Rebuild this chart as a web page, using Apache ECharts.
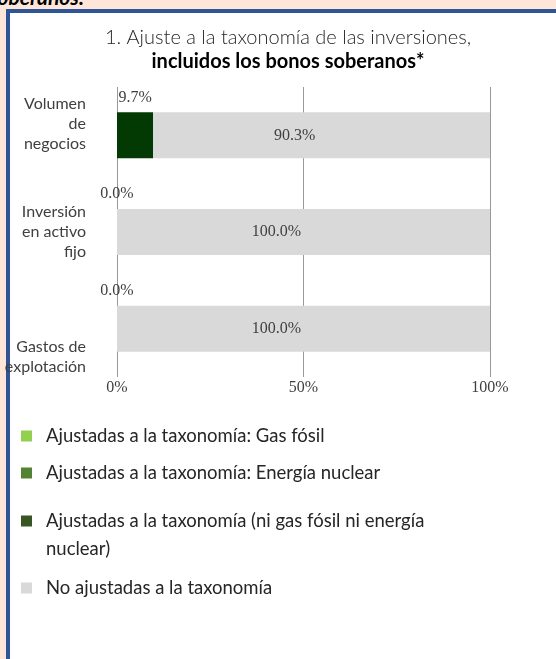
<!DOCTYPE html>
<html>
<head>
<meta charset="utf-8">
<script src="https://cdn.jsdelivr.net/npm/echarts@6/dist/echarts.min.js"></script>
<style>
  html, body { margin: 0; padding: 0; }
  body { width: 556px; height: 659px; background: #fde6d7; position: relative; overflow: hidden; }
  .cut { position: absolute; left: -11px; top: -13px; font: italic bold 21px Lato, sans-serif; color: #000; line-height: 20px; }
  .panel { position: absolute; left: 6px; top: 9px; right: -10px; bottom: -10px; background: #fff;
           border-left: 4px solid #2f5597; border-top: 4px solid #2f5597; }
  #chart { position: absolute; left: 0; top: 0; width: 556px; height: 659px; }
</style>
</head>
<body>
<div class="cut">soberanos.</div>
<div class="panel"></div>
<div id="chart"></div>
<script>
// categories (top to bottom)
const categories = ['Volumen\nde\nnegocios', 'Inversión\nen activo\nfijo', 'Gastos de\nexplotación']
// series values (%)
const gasFosil = [0, 0, 0]
const nuclear = [0, 0, 0]
const niGasNiNuclear = [9.7, 0, 0]
const noAjustadas = [90.3, 100, 100]
// legend names
const seriesNames = [
  'Ajustadas a la taxonomía: Gas fósil',
  'Ajustadas a la taxonomía: Energía nuclear',
  'Ajustadas a la taxonomía (ni gas fósil ni energía\nnuclear)',
  'No ajustadas a la taxonomía'
]
const tickLabels = ['0%', '50%', '100%']

const chart = echarts.init(document.getElementById('chart'))

const sansFont = 'Lato, "Open Sans", sans-serif'
const serifFont = '"Liberation Serif", "DejaVu Serif", serif'

// one legend per item so each row sits where the reference has it
function legendItem(name, top, color, firstLineAtIcon) {
  return {
    top: top,
    left: 21,
    orient: 'vertical',
    padding: 0,
    itemWidth: 11,
    itemHeight: 11,
    icon: 'rect',
    selectedMode: false,
    data: [{ name: name, itemStyle: { color: color } }],
    // a leading blank line keeps the marker level with the first text line
    formatter: firstLineAtIcon ? n => '\n' + n : n => n,
    textStyle: {
      fontFamily: sansFont,
      fontSize: 18.5,
      lineHeight: 28,
      color: '#262626',
      padding: [0, 0, 0, 9]
    }
  }
}

chart.setOption({
  animation: false,
  title: {
    text: '{a|1. Ajuste a la taxonomía de las inversiones,}\n{b|incluidos los bonos soberanos*}',
    left: 283,
    top: 21,
    textAlign: 'center',
    textStyle: {
      rich: {
        a: { fontFamily: sansFont, fontWeight: 300, fontSize: 20, lineHeight: 24, color: '#262626' },
        b: { fontFamily: sansFont, fontWeight: 'bold', fontSize: 20, lineHeight: 24, color: '#000' }
      }
    }
  },
  legend: [
    legendItem(seriesNames[0], 422, '#92d050'),
    legendItem(seriesNames[1], 459, '#548235'),
    legendItem(seriesNames[2], 479, '#375623', true),
    legendItem(seriesNames[3], 574, '#d9d9d9')
  ],
  grid: { left: 117, right: 66, top: 87, bottom: 282 },
  xAxis: {
    type: 'value',
    min: 0,
    max: 100,
    interval: 50,
    axisLine: { show: false },
    axisTick: { show: false },
    splitLine: { lineStyle: { color: '#999999', width: 1 } },
    axisLabel: {
      margin: 3,
      color: '#404040',
      fontFamily: serifFont,
      fontSize: 16,
      formatter: v => tickLabels[Math.round(v / 50)]
    }
  },
  yAxis: {
    type: 'category',
    inverse: true,
    data: categories,
    axisLine: { show: false },
    axisTick: { show: false },
    axisLabel: {
      margin: 31,
      color: '#404040',
      fontFamily: sansFont,
      fontSize: 16,
      lineHeight: 20,
      align: 'right',
      // the reference labels sit off the bar centres: pad with spacer lines
      formatter: (v, i) => i === 0 ? v + '\n{up| }' : i === 2 ? '{down| }\n' + v : v,
      rich: {
        up: { lineHeight: 22, fontSize: 1 },
        down: { lineHeight: 56, fontSize: 1 }
      }
    }
  },
  series: [
    {
      name: seriesNames[0], type: 'bar', stack: 'total', barWidth: 46,
      data: gasFosil, itemStyle: { color: '#92d050' }
    },
    {
      name: seriesNames[1], type: 'bar', stack: 'total', barWidth: 46,
      data: nuclear, itemStyle: { color: '#548235' }
    },
    {
      name: seriesNames[2], type: 'bar', stack: 'total', barWidth: 46,
      data: niGasNiNuclear,
      itemStyle: { color: '#033a03' },
      label: {
        show: true,
        position: 'top',
        distance: 7,
        color: '#404040',
        fontFamily: serifFont,
        fontSize: 16,
        formatter: p => p.value.toFixed(1) + '%'
      }
    },
    {
      name: seriesNames[3], type: 'bar', stack: 'total', barWidth: 46,
      data: noAjustadas,
      itemStyle: { color: '#d9d9d9' },
      label: {
        show: true,
        position: 'inside',
        offset: [-27, 0],
        color: '#404040',
        fontFamily: serifFont,
        fontSize: 16,
        formatter: p => p.value.toFixed(1) + '%'
      }
    }
  ]
})
</script>
</body>
</html>
